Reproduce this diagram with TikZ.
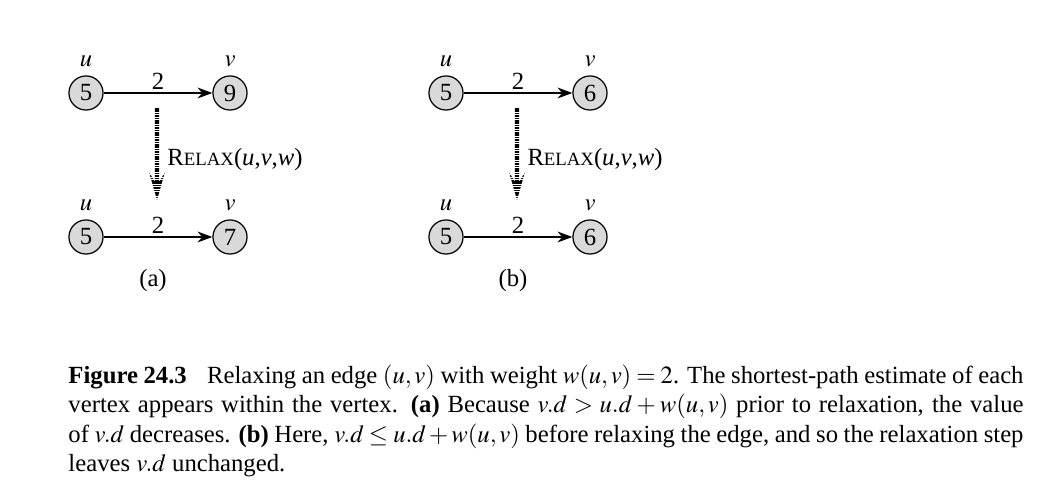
\documentclass[tikz,border=0pt]{standalone}
\usepackage{mathptmx}
\usepackage{fontspec}
\setmainfont{Liberation Serif}
\usepackage{tikz}
\usetikzlibrary{arrows.meta,positioning,calc}

\tikzset{
  vertex/.style={circle, draw, fill=black!15, line width=0.5pt, minimum size=13.8pt, inner sep=0pt},
  edge/.style={line width=0.5pt, -{Stealth[length=6pt, width=4.4pt, inset=1.9pt]}},
  weight/.style={above, inner sep=1.2pt},
  tag/.style={inner sep=0pt}
}

\begin{document}
\begin{tikzpicture}[x=0.4049pt, y=-0.4049pt, font=\fontsize{10}{12}\selectfont]
  \useasboundingbox (0,0) rectangle (1049,486);

  % Two panels: (a) v changes, (b) v stays
  \foreach \x/\p/\vt/\vb in {0/a/9/7, 360/b/6/6} {
    % Top row
    \node[vertex, label={above:$u$}] (u\p1) at (86+\x,93) {5};
    \node[vertex, label={above:$v$}] (v\p1) at (230+\x,93) {\vt};
    \draw[edge] (u\p1) -- node[weight] {2} (v\p1);

    % Bottom row
    \node[vertex, label={above:$u$}] (u\p2) at (86+\x,237) {5};
    \node[vertex, label={above:$v$}] (v\p2) at (230+\x,237) {\vb};
    \draw[edge] (u\p2) -- node[weight] {2} (v\p2);

    % Striped relax arrow
    \coordinate (s\p) at (157+\x,108);
    \coordinate (t\p) at (157+\x,200);
    \begin{scope}
      \clip ($(s\p)+(-2.2,0)$) -- ($(s\p)+(2.2,0)$) -- ($(t\p)+(2.2,-18)$)
        -- ($(t\p)+(8,-28)$) -- (t\p) -- ($(t\p)+(-8,-28)$)
        -- ($(t\p)+(-2.2,-18)$) -- cycle;
      \foreach \s in {108,110.4,...,201}
        \fill (\x+140,\s) rectangle (\x+175,\s+1.5);
    \end{scope}
    \node[anchor=west, tag] (r\p) at (167+\x,160)
      {R{\fontsize{7.6}{9}\selectfont ELAX}(\textit{u},\textit{v},\textit{w})};

    % Panel tag
    \node[tag] (c\p) at (153+\x,281) {(\p)};
  }

  % Caption
  \node[anchor=north west, inner sep=0pt, text width=386.7pt, align=justify] (cap) at (68,364)
    {\textbf{Figure 24.3}\hspace{6pt} Relaxing an edge $(u,v)$ with weight $w(u,v)=2$. The shortest-path estimate of each\linebreak
     vertex appears within the vertex. \textbf{(a)} Because $v.d > u.d + w(u,v)$ prior to relaxation, the value\linebreak
     of $v.d$ decreases. \textbf{(b)} Here, $v.d \le u.d + w(u,v)$ before relaxing the edge, and so the relaxation step\linebreak
     leaves $v.d$ unchanged.};
\end{tikzpicture}
\end{document}
